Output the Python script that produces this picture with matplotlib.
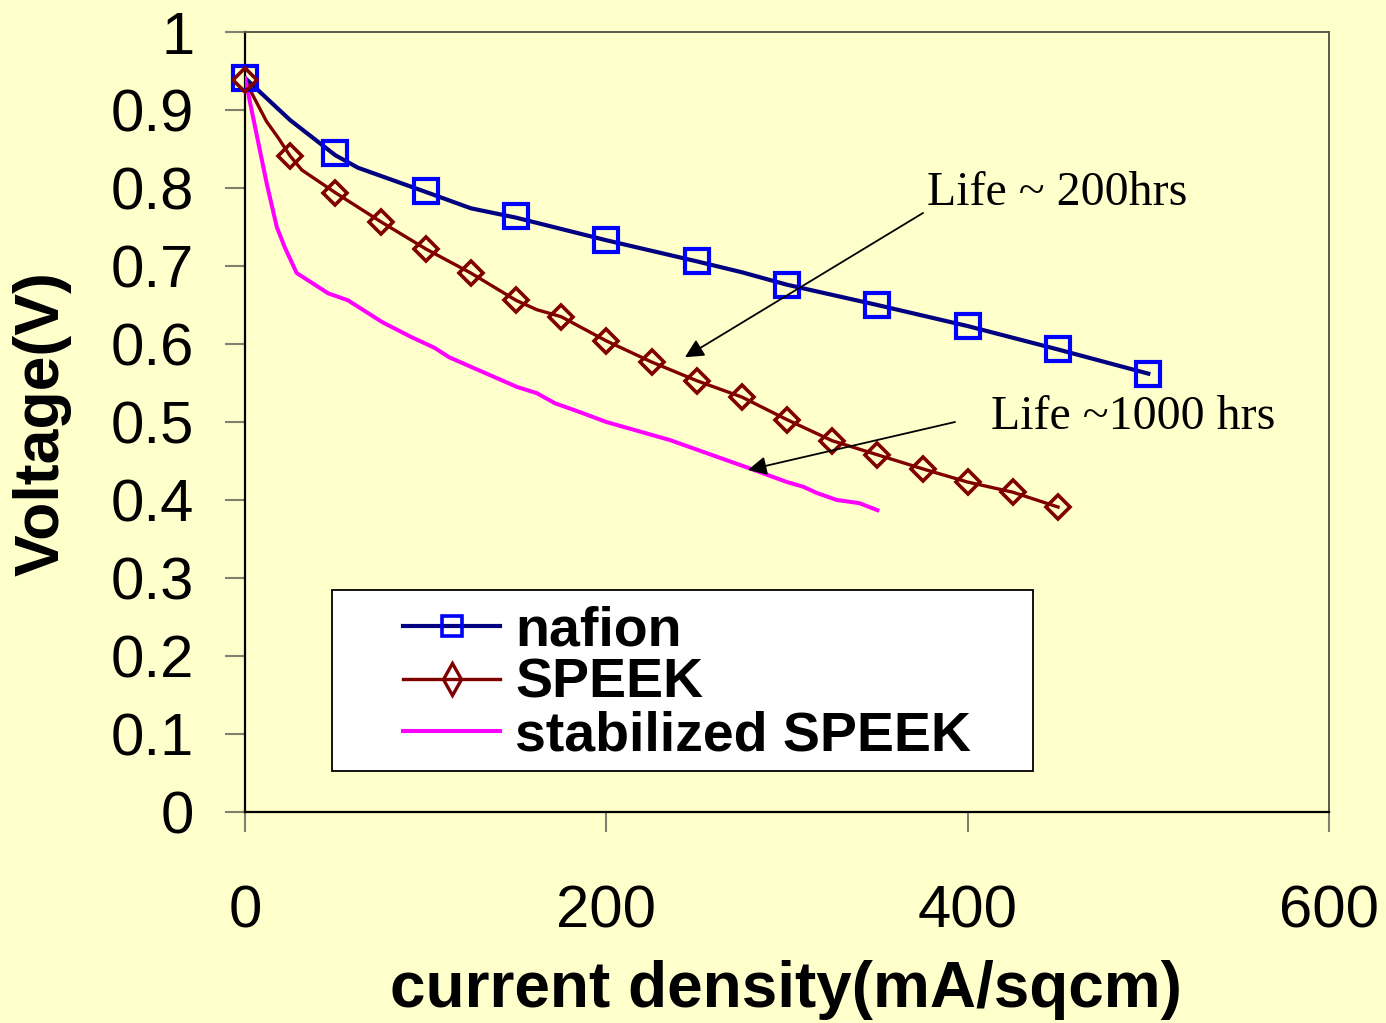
import matplotlib
matplotlib.use("Agg")
import matplotlib.pyplot as plt
from matplotlib.lines import Line2D
from matplotlib.patches import Rectangle

# ---- data ----
nafion_x = [0, 50, 100, 150, 200, 250, 300, 350, 400, 450, 500]
nafion_y = [0.941, 0.845, 0.796, 0.764, 0.733, 0.706, 0.676, 0.650, 0.623, 0.593, 0.562]
nafion_line_x = [0, 25, 50, 62.5, 100, 125, 150, 200, 250, 275, 300, 350, 400, 450, 500]
nafion_line_y = [0.941, 0.887, 0.842, 0.826, 0.795, 0.774, 0.762, 0.733, 0.706, 0.692,
                 0.676, 0.650, 0.623, 0.593, 0.562]

speek_x = [0, 25, 50, 75, 100, 125, 150, 175, 200, 225, 250, 275, 300, 325, 350, 375, 400, 425, 450]
speek_y = [0.938, 0.841, 0.794, 0.757, 0.722, 0.691, 0.656, 0.635, 0.604, 0.577, 0.553,
           0.532, 0.503, 0.476, 0.458, 0.440, 0.423, 0.410, 0.391]
speek_line_x = [0, 12, 18.5, 25, 31.5, 50, 75, 100, 125, 150, 161.5, 175, 200, 225, 250,
                275, 300, 325, 350, 375, 400, 425, 450]
speek_line_y = [0.938, 0.885, 0.864, 0.841, 0.823, 0.794, 0.757, 0.722, 0.691, 0.656, 0.644,
                0.635, 0.604, 0.577, 0.553, 0.532, 0.503, 0.476, 0.458, 0.440, 0.423, 0.410, 0.391]

stab_x = [0, 12, 17.6, 22, 28.6, 46, 57, 76, 92, 105, 113, 150.5, 161.5, 171.6, 185, 200,
          235, 280, 300, 309, 316.5, 327.6, 340, 350]
stab_y = [0.941, 0.806, 0.750, 0.724, 0.691, 0.665, 0.656, 0.628, 0.609, 0.595, 0.583,
          0.545, 0.537, 0.524, 0.513, 0.500, 0.477, 0.440, 0.423, 0.417, 0.409, 0.400,
          0.396, 0.387]

x_ticks = [0, 200, 400, 600]
y_ticks = [0, 0.1, 0.2, 0.3, 0.4, 0.5, 0.6, 0.7, 0.8, 0.9, 1.0]
y_tick_labels = ["0", "0.1", "0.2", "0.3", "0.4", "0.5", "0.6", "0.7", "0.8", "0.9", "1"]
series_labels = ["nafion", "SPEEK", "stabilized SPEEK"]
annot_texts = ["Life ~ 200hrs", "Life ~1000 hrs"]

BG = "#FFFFCC"
NAVY = "#000080"
BLUE = "#0000FF"
MAROON = "#800000"
MAGENTA = "#FF00FF"

plt.rcParams["font.family"] = ["Liberation Sans", "DejaVu Sans"]

fig = plt.figure(figsize=(13.86, 10.23), dpi=100, facecolor=BG)
ax = fig.add_axes([245 / 1386, 1 - 812 / 1023, 1084 / 1386, 780 / 1023])
ax.set_facecolor(BG)

# series
ax.plot(nafion_line_x, nafion_line_y, color=NAVY, lw=3.0, zorder=3)
ax.plot(nafion_x, nafion_y, ls="none", marker="s", ms=17, mfc="none", mec=BLUE, mew=3.0,
        zorder=4, clip_on=False)
ax.plot(speek_line_x, speek_line_y, color=MAROON, lw=2.4, zorder=3)
ax.plot(speek_x, speek_y, ls="none", marker="D", ms=12, mfc="none", mec=MAROON, mew=2.6,
        zorder=4, clip_on=False)
ax.plot(stab_x, stab_y, color=MAGENTA, lw=2.9, zorder=3)

ax.set_xlim(0, 600)
ax.set_ylim(0, 1)
ax.set_xticks(x_ticks)
ax.set_xticklabels([str(v) for v in x_ticks])
ax.set_yticks(y_ticks)
ax.set_yticklabels(y_tick_labels)
ax.tick_params(axis="both", direction="out", length=14.5, width=1.5, color="#808070",
               labelsize=43, labelcolor="black")
ax.tick_params(axis="y", pad=22)
ax.tick_params(axis="x", pad=38)

for side in ["left", "bottom"]:
    ax.spines[side].set_color("black")
    ax.spines[side].set_linewidth(1.6)
for side in ["top", "right"]:
    ax.spines[side].set_color("#5a5a4a")
    ax.spines[side].set_linewidth(1.4)

ax.set_xlabel("current density(mA/sqcm)", fontsize=46, fontweight="bold")
ax.set_ylabel("Voltage(V)", fontsize=45, fontweight="bold")
ax.xaxis.set_label_coords((786 - 245) / 1084, (812 - 990) / 780)
ax.xaxis.label.set_va("center")
ax.yaxis.set_label_coords((42 - 245) / 1084, (812 - 424) / 780)
ax.yaxis.label.set_va("center")

# annotations
ax.annotate("", xy=(243.5, 0.583), xytext=(375.3, 0.768),
            arrowprops=dict(arrowstyle="-|>", color="black", lw=1.3, mutation_scale=28,
                            shrinkA=0, shrinkB=0), zorder=5)
ax.text(377.5, 0.778, annot_texts[0], fontsize=34.5, family=["Liberation Serif"],
        ha="left", va="baseline")
ax.annotate("", xy=(278.4, 0.4385), xytext=(393, 0.50),
            arrowprops=dict(arrowstyle="-|>", color="black", lw=1.3, mutation_scale=28,
                            shrinkA=0, shrinkB=0), zorder=5)
ax.text(412.9, 0.491, annot_texts[1], fontsize=34.5, family=["Liberation Serif"],
        ha="left", va="baseline")

# legend
box = Rectangle((87 / 1084, 41 / 780), (1033 - 332) / 1084, (771 - 590) / 780,
                transform=ax.transAxes, facecolor="white", edgecolor="black", lw=1.3, zorder=6)
ax.add_patch(box)
handles = [
    Line2D([], [], color=NAVY, lw=3.0, marker="s", ms=14, mfc="none", mec=BLUE, mew=2.6),
    Line2D([], [], color=MAROON, lw=2.4, marker="d", ms=16, mfc="none", mec=MAROON, mew=2.4),
    Line2D([], [], color=MAGENTA, lw=2.9),
]
leg = ax.legend(handles, series_labels, loc="center left",
                bbox_to_anchor=((403 - 245) / 1084, (812 - 684) / 780),
                frameon=False, prop=dict(size=40, weight="bold"),
                handlelength=1.75, handletextpad=0.27, labelspacing=0.01, borderpad=0,
                borderaxespad=0)
leg.set_zorder(7)

fig.savefig("out.png", dpi=100, facecolor=BG)
